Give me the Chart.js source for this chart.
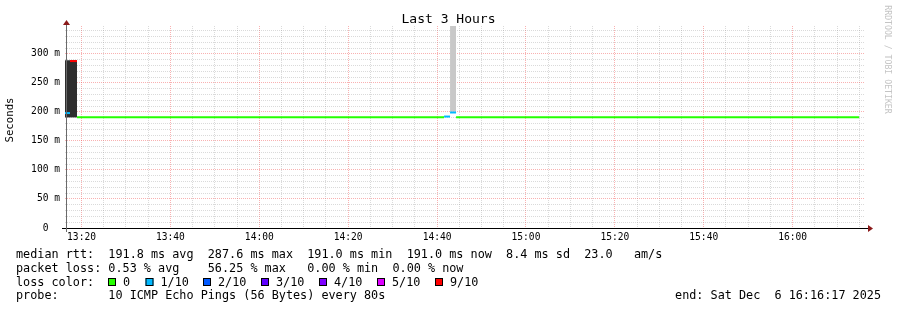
<!DOCTYPE html>
<html lang="en">
<head>
<meta charset="utf-8">
<title>Last 3 Hours</title>
<script src="https://cdn.jsdelivr.net/npm/chart.js@4.4.1/dist/chart.umd.min.js"></script>
<style>
  html, body { margin: 0; padding: 0; background: #fff; }
  #grafico { display: block; }
</style>
</head>
<body>
<canvas id="grafico" width="897" height="310"></canvas>
<script>
// Eixo X em minutos depois das 13:00 (janela 13:16:17 -> 16:16:17)
const inicioJanela = 16.283;
const fimJanela = 196.283;

// Marcas do eixo X (a cada 5 min) e rótulos (a cada 20 min)
const marcasX = [20, 25, 30, 35, 40, 45, 50, 55, 60, 65, 70, 75, 80, 85, 90, 95, 100, 105,
  110, 115, 120, 125, 130, 135, 140, 145, 150, 155, 160, 165, 170, 175, 180, 185, 190, 195];
const marcasXPrincipais = [20, 40, 60, 80, 100, 120, 140, 160, 180];
const rotulosX = ['13:20', '13:40', '14:00', '14:20', '14:40', '15:00', '15:20', '15:40', '16:00'];

// Marcas do eixo Y em ms (a cada 10) e rótulos (a cada 50)
const marcasY = [0, 10, 20, 30, 40, 50, 60, 70, 80, 90, 100, 110, 120, 130, 140, 150, 160, 170,
  180, 190, 200, 210, 220, 230, 240, 250, 260, 270, 280, 290, 300, 310, 320, 330, 340];
const marcasYPrincipais = [0, 50, 100, 150, 200, 250, 300];
const rotulosY = ['0  ', '50 m', '100 m', '150 m', '200 m', '250 m', '300 m'];
const maxY = 348;

// Mediana do rtt: limites de cada passo (min) e valor do passo (ms)
const limitesPasso = [16.283, 17.41, 18.98, 101.57, 102.92, 104.27, 194.95];
const medianaMs = [198, 287.6, 191.0, 192.0, 199.0, 191.0];
const pingsPerdidos = [1, 9, 0, 1, 1, 0];

// "Fumaça" (dispersão dos pings em cada passo)
const fumacaInicio = [16.283, 102.92];
const fumacaFim = [18.98, 104.27];
const fumacaMinMs = [190.5, 200.5];
const fumacaMaxMs = [289, 348];

// Legenda de perda de pacotes
const perdaNiveis = [0, 1, 2, 3, 4, 5, 9];
const perdaRotulos = ['0', '1/10', '2/10', '3/10', '4/10', '5/10', '9/10'];

// Textos
const titulo = 'Last 3 Hours';
const tituloEixoY = 'Seconds';
const marcaDagua = 'RRDTOOL / TOBI OETIKER';
const linhasTexto = [
  'median rtt:  191.8 ms avg  287.6 ms max  191.0 ms min  191.0 ms now  8.4 ms sd  23.0   am/s',
  'packet loss: 0.53 % avg    56.25 % max   0.00 % min  0.00 % now',
  'loss color:',
  'probe:       10 ICMP Echo Pings (56 Bytes) every 80s'
];
const textoFim = 'end: Sat Dec  6 16:16:17 2025';

// Cores e estilos
const coresPerda = { 0: '#26ff00', 1: '#00b8ff', 2: '#0059ff', 3: '#5e00ff', 4: '#7e00ff', 5: '#dd00ff', 9: '#ff0000' };
const coresFumaca = ['#2e2e2e', '#c8c8c8'];
const corGrade = 'rgba(140, 140, 140, 0.32)';
const corGradePrincipal = 'rgba(240, 70, 70, 0.42)';
const corSeta = '#8b1a1a';
const fonteMono = "'DejaVu Sans Mono', monospace";

// Montagem dos datasets
const datasets = [];

medianaMs.forEach((valor, i) => {
  datasets.push({
    data: [{ x: limitesPasso[i], y: valor }, { x: limitesPasso[i + 1], y: valor }],
    borderColor: coresPerda[pingsPerdidos[i]],
    borderWidth: 2,
    borderCapStyle: 'butt',
    pointRadius: 0,
    fill: false,
    order: 0
  });
});

fumacaInicio.forEach((t, i) => {
  datasets.push({
    data: [{ x: t, y: fumacaMaxMs[i] }, { x: fumacaFim[i], y: fumacaMaxMs[i] }],
    fill: { value: fumacaMinMs[i] },
    backgroundColor: coresFumaca[i],
    borderWidth: 0,
    pointRadius: 0,
    order: 1
  });
});

// Eixos, setas e textos que o RRDtool desenha em volta do gráfico
const pluginDecoracao = {
  id: 'decoracao',
  afterDatasetsDraw(chart) {
    const { ctx, chartArea: area } = chart;
    const base = area.bottom + 0.5;
    const eixoY = area.left + 1.5;
    ctx.save();
    ctx.lineWidth = 1;
    ctx.setLineDash([]);

    ctx.strokeStyle = '#000';
    ctx.beginPath();
    ctx.moveTo(area.left - 3, base);
    ctx.lineTo(area.right + 3, base);
    ctx.stroke();

    ctx.strokeStyle = '#6a6a6a';
    ctx.beginPath();
    ctx.moveTo(eixoY, area.bottom + 4);
    ctx.lineTo(eixoY, area.top - 2);
    ctx.stroke();

    ctx.fillStyle = corSeta;
    ctx.beginPath();
    ctx.moveTo(area.right + 3, base - 3.5);
    ctx.lineTo(area.right + 8, base);
    ctx.lineTo(area.right + 3, base + 3.5);
    ctx.closePath();
    ctx.fill();

    ctx.beginPath();
    ctx.moveTo(eixoY - 3.5, area.top - 1);
    ctx.lineTo(eixoY, area.top - 6);
    ctx.lineTo(eixoY + 3.5, area.top - 1);
    ctx.closePath();
    ctx.fill();
    ctx.restore();
  },
  afterDraw(chart) {
    const { ctx, width } = chart;
    ctx.save();
    ctx.fillStyle = '#000';
    ctx.textBaseline = 'middle';

    // título
    ctx.font = `13px ${fonteMono}`;
    ctx.textAlign = 'center';
    ctx.fillText(titulo, width / 2, 19.5);

    // título do eixo Y
    ctx.save();
    ctx.translate(10, 120);
    ctx.rotate(-Math.PI / 2);
    ctx.font = `10.7px ${fonteMono}`;
    ctx.fillText(tituloEixoY, 0, 0);
    ctx.restore();

    // marca d'água
    ctx.save();
    ctx.translate(887, 59.5);
    ctx.rotate(Math.PI / 2);
    ctx.font = `8.2px ${fonteMono}`;
    ctx.fillStyle = '#c4c4c4';
    ctx.fillText(marcaDagua, 0, 0);
    ctx.restore();

    // linhas de legenda
    const linhasY = [254.5, 268.5, 282.5, 296];
    ctx.font = `11.8px ${fonteMono}`;
    ctx.textAlign = 'left';
    linhasTexto.forEach((linha, i) => ctx.fillText(linha, 16, linhasY[i]));

    ctx.textAlign = 'right';
    ctx.fillText(textoFim, 881, linhasY[3]);

    // caixas de cor da perda
    const caixasX = [108, 145.5, 203, 261, 319, 377, 435];
    ctx.textAlign = 'left';
    perdaNiveis.forEach((nivel, i) => {
      const x = caixasX[i];
      const y = 278;
      ctx.fillStyle = coresPerda[nivel];
      ctx.fillRect(x, y, 8, 8);
      ctx.strokeStyle = '#000';
      ctx.lineWidth = 1;
      ctx.strokeRect(x + 0.5, y + 0.5, 7, 7);
      ctx.fillStyle = '#000';
      ctx.fillText(perdaRotulos[i], x + 15, linhasY[2]);
    });
    ctx.restore();
  }
};

const fonteEixo = { family: fonteMono, size: 9.6 };

new Chart(document.getElementById('grafico'), {
  type: 'line',
  data: { datasets },
  options: {
    responsive: false,
    animation: false,
    devicePixelRatio: 1,
    layout: { padding: { left: 0, right: 32, top: 26, bottom: 0 } },
    plugins: {
      legend: { display: false },
      tooltip: { enabled: false }
    },
    scales: {
      x: {
        type: 'linear',
        min: inicioJanela,
        max: fimJanela,
        afterBuildTicks: escala => { escala.ticks = marcasX.map(v => ({ value: v })); },
        afterFit: escala => { escala.height = 82; },
        ticks: {
          autoSkip: false,
          maxRotation: 0,
          padding: 4,
          color: '#000',
          font: fonteEixo,
          callback: valor => {
            const i = marcasXPrincipais.indexOf(valor);
            return i >= 0 ? rotulosX[i] : '';
          }
        },
        grid: {
          drawTicks: false,
          lineWidth: 1,
          color: ctx => marcasXPrincipais.includes(ctx.tick.value) ? corGradePrincipal : corGrade
        },
        border: { display: false, dash: [1, 1] }
      },
      y: {
        type: 'linear',
        min: 0,
        max: maxY,
        afterBuildTicks: escala => { escala.ticks = marcasY.map(v => ({ value: v })); },
        afterFit: escala => { escala.width = 65; },
        ticks: {
          autoSkip: false,
          padding: 5,
          color: '#000',
          font: fonteEixo,
          callback: valor => {
            const i = marcasYPrincipais.indexOf(valor);
            return i >= 0 ? rotulosY[i] : '';
          }
        },
        grid: {
          drawTicks: false,
          lineWidth: 1,
          color: ctx => marcasYPrincipais.includes(ctx.tick.value) ? corGradePrincipal : corGrade
        },
        border: { display: false, dash: [1, 1] }
      }
    }
  },
  plugins: [pluginDecoracao]
});
</script>
</body>
</html>
